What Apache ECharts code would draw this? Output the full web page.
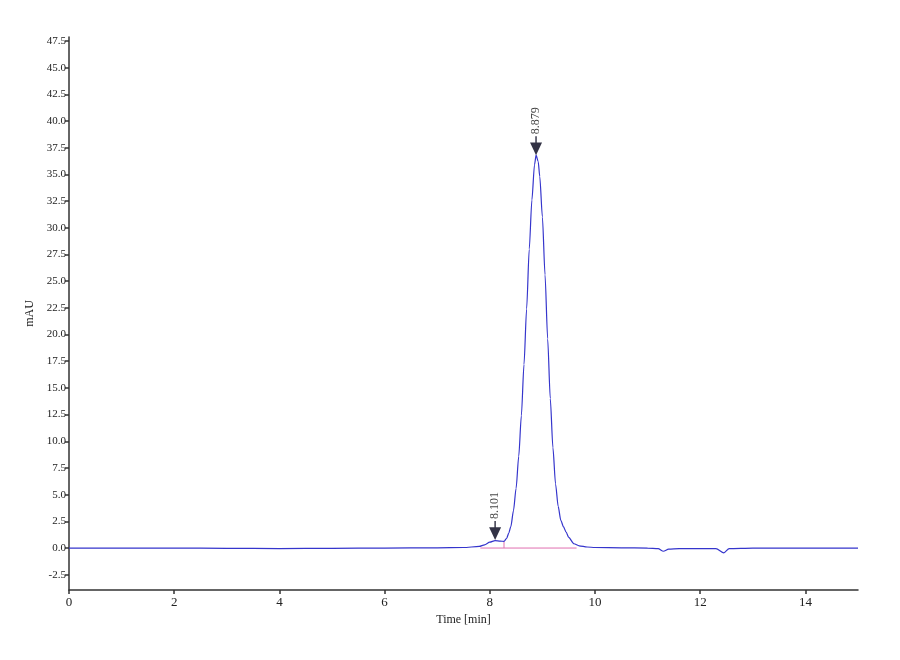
<!DOCTYPE html>
<html>
<head>
<meta charset="utf-8">
<script src="https://cdn.jsdelivr.net/npm/echarts@6/dist/echarts.min.js"></script>
<style>
  html, body { margin: 0; padding: 0; background: #fff; }
  #chart { width: 900px; height: 660px; }
</style>
</head>
<body>
<div id="chart"></div>
<script>
// chromatogram trace, [time (min), mAU]
const trace = [
    [0, 0], [1, 0.0], [2, 0.0], [3, -0.03], [4, -0.05], [5, -0.03], [6, 0.0],
    [7, 0.02], [7.5, 0.05], [7.8, 0.15], [7.9, 0.3], [8.0, 0.55], [8.1, 0.7],
    [8.2, 0.65], [8.27, 0.62], [8.32, 0.9], [8.36, 1.4], [8.4, 2.0], [8.45, 3.5],
    [8.5, 5.6], [8.55, 8.6], [8.6, 12.4], [8.65, 17.2], [8.7, 22.4], [8.75, 28.0],
    [8.8, 32.6], [8.85, 35.9], [8.88, 36.8], [8.92, 36.2], [8.95, 34.8],
    [9.0, 31.0], [9.05, 25.6], [9.1, 19.6], [9.15, 14.0], [9.2, 9.4],
    [9.25, 6.0], [9.3, 3.9], [9.35, 2.6], [9.4, 2.0], [9.45, 1.5], [9.5, 1.0],
    [9.6, 0.4], [9.7, 0.2], [9.85, 0.1], [10, 0.05], [10.5, 0.02], [11, 0.0],
    [11.2, -0.05], [11.3, -0.3], [11.4, -0.1], [11.6, -0.05], [12, -0.05],
    [12.3, -0.05], [12.45, -0.45], [12.55, -0.05], [13, 0.0], [14, 0.0], [15, 0.0]
];

// peak marks
const peakTimes = [8.101, 8.879];
const peakHeights = [0.75, 36.8];
const peakLabels = ['8.101', '8.879'];

// integration baseline and drop line
const baseLine = [[7.82, 0.0], [9.65, 0.0]];
const dropLine = [[8.27, 0.0], [8.27, 0.62]];

const yTicks = [-2.5, 0, 2.5, 5, 7.5, 10, 12.5, 15, 17.5, 20, 22.5, 25, 27.5,
    30, 32.5, 35, 37.5, 40, 42.5, 45, 47.5];
const xTicks = [0, 2, 4, 6, 8, 10, 12, 14];

const chart = echarts.init(document.getElementById('chart'));
const font = 'Liberation Serif';
const axisCol = '#333';

chart.setOption({
    animation: false,
    backgroundColor: '#fff',
    grid: { left: 69, right: 42, top: 37, bottom: 70 },
    xAxis: {
        type: 'value',
        min: 0,
        max: 15,
        name: 'Time [min]',
        nameLocation: 'middle',
        nameGap: 23,
        nameTextStyle: { fontFamily: font, fontSize: 12, color: '#222' },
        axisLine: { onZero: false, lineStyle: { color: axisCol, width: 1.5 } },
        axisTick: { customValues: xTicks, length: 4, lineStyle: { color: axisCol, width: 1.5 } },
        axisLabel: {
            customValues: xTicks,
            fontFamily: font, fontSize: 13, color: '#222', margin: 6
        },
        splitLine: { show: false }
    },
    yAxis: {
        type: 'value',
        min: -3.93,
        max: 47.87,
        name: 'mAU',
        nameLocation: 'middle',
        nameGap: 22,
        nameRotate: 90,
        nameTextStyle: { fontFamily: font, fontSize: 12, color: '#222' },
        axisLine: { show: true, lineStyle: { color: axisCol, width: 1.5 } },
        axisTick: { show: true, customValues: yTicks, length: 4, lineStyle: { color: axisCol, width: 1.5 } },
        axisLabel: {
            customValues: yTicks,
            formatter: v => v.toFixed(1),
            fontFamily: font, fontSize: 11, color: '#222', margin: 3
        },
        splitLine: { show: false }
    },
    series: [
        {
            type: 'line',
            data: baseLine,
            showSymbol: false,
            lineStyle: { color: '#e070b0', width: 1 },
            z: 1
        },
        {
            type: 'line',
            data: dropLine,
            showSymbol: false,
            lineStyle: { color: '#e070b0', width: 1 },
            z: 1
        },
        {
            type: 'line',
            data: trace,
            showSymbol: false,
            smooth: 0.25,
            smoothMonotone: 'x',
            lineStyle: { color: '#3535cc', width: 1.2 },
            z: 2
        },
        {
            type: 'scatter',
            data: peakTimes.map((t, i) => [t, peakHeights[i]]),
            symbol: 'path://M4.4,0 L5.6,0 L5.6,6 L10,6 L5,18 L0,6 L4.4,6 Z',
            symbolSize: [12, 19],
            symbolKeepAspect: false,
            symbolOffset: [0, '-50%'],
            itemStyle: { color: '#000018' },
            label: {
                show: true,
                position: 'top',
                distance: 2,
                rotate: 90,
                align: 'left',
                verticalAlign: 'middle',
                formatter: p => peakLabels[p.dataIndex],
                fontFamily: font,
                fontSize: 12,
                color: '#111'
            },
            z: 3
        }
    ]
});
</script>
</body>
</html>
